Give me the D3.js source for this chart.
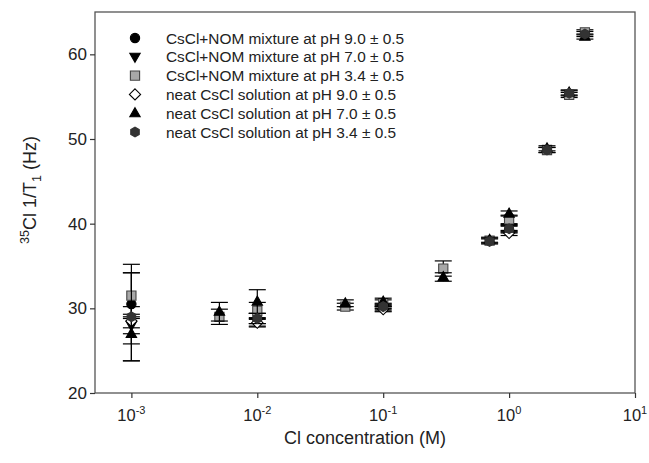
<!DOCTYPE html>
<html><head><meta charset="utf-8">
<script src="https://cdn.jsdelivr.net/npm/d3@7"></script>
<style>body{margin:0;background:#fff}svg{display:block}text{font-family:"Liberation Sans",Arial,sans-serif;fill:#222}</style>
</head><body><svg id="c" width="649" height="463"></svg>
<script>
const seriesNames = [
  "CsCl+NOM mixture at pH 9.0 \u00b1 0.5",
  "CsCl+NOM mixture at pH 7.0 \u00b1 0.5",
  "CsCl+NOM mixture at pH 3.4 \u00b1 0.5",
  "neat CsCl solution at pH 9.0 \u00b1 0.5",
  "neat CsCl solution at pH 7.0 \u00b1 0.5",
  "neat CsCl solution at pH 3.4 \u00b1 0.5"
];
// concentrations (M), 1/T1 (Hz), error (Hz)
const mix90X = [0.001, 0.01, 0.1, 1];
const mix90Y = [30.5, 28.8, 30.3, 39.3];
const mix90E = [4.7, 0.6, 0.3, 0.4];
const mix70X = [0.001, 0.01, 0.1, 1];
const mix70Y = [28.0, 28.4, 30.0, 39.5];
const mix70E = [1.0, 0.5, 0.3, 0.4];
const mix34X = [0.001, 0.005, 0.01, 0.05, 0.1, 0.3, 0.7, 1, 2, 3, 4];
const mix34Y = [31.5, 29.0, 29.7, 30.2, 30.6, 34.7, 38.0, 40.5, 48.7, 55.2, 62.6];
const mix34E = [2.7, 0.9, 1.0, 0.4, 0.4, 0.9, 0.3, 0.5, 0.3, 0.3, 0.3];
const neat90X = [0.001, 0.01, 0.1, 1];
const neat90Y = [28.5, 28.3, 29.9, 38.9];
const neat90E = [0.8, 0.5, 0.3, 0.3];
const neat70X = [0.001, 0.005, 0.01, 0.05, 0.1, 0.3, 0.7, 1, 2, 3, 4];
const neat70Y = [27.0, 29.6, 30.8, 30.6, 30.8, 33.7, 38.1, 41.2, 48.9, 55.5, 62.1];
const neat70E = [3.2, 1.1, 1.4, 0.4, 0.4, 0.5, 0.3, 0.3, 0.3, 0.3, 0.3];
const neat34X = [0.001, 0.01, 0.1, 0.7, 1, 2, 3, 4];
const neat34Y = [29.0, 28.8, 30.2, 37.9, 39.4, 48.7, 55.4, 62.4];
const neat34E = [5.2, 0.6, 0.3, 0.3, 0.4, 0.3, 0.3, 0.3];
const xTicks = [0.001, 0.01, 0.1, 1, 10];
const xTickExp = ["-3", "-2", "-1", "0", "1"];
const yTicks = [20, 30, 40, 50, 60];

const seriesData = [
  [mix90X, mix90Y, mix90E], [mix70X, mix70Y, mix70E], [mix34X, mix34Y, mix34E],
  [neat90X, neat90Y, neat90E], [neat70X, neat70Y, neat70E], [neat34X, neat34Y, neat34E]
];
const styles = [
  {shape: "circle", fill: "#000", stroke: "#000"},
  {shape: "itri", fill: "#000", stroke: "#000"},
  {shape: "square", fill: "#a8a8a8", stroke: "#444"},
  {shape: "diamond", fill: "#fff", stroke: "#000"},
  {shape: "tri", fill: "#000", stroke: "#000"},
  {shape: "hex", fill: "#333", stroke: "#333"}
];

const svg = d3.select("#c");
const L = 95, R = 635, T = 12, B = 393;
const x = d3.scaleLog().domain([0.000514, 10]).range([L, R]);
const y = d3.scaleLinear().domain([20, 65]).range([B, T]);

function shapePath(s) {
  const r = 4.6;
  if (s === "circle") return d3.symbol(d3.symbolCircle, 68)();
  if (s === "square") return `M${-r},${-r}H${r}V${r}H${-r}Z`;
  if (s === "diamond") { const d = 5.6; return `M0,${-d}L${d},0L0,${d}L${-d},0Z`; }
  if (s === "tri") return "M0,-5.5L5.2,3.6L-5.2,3.6Z";
  if (s === "itri") return "M0,5.5L5.2,-3.6L-5.2,-3.6Z";
  if (s === "hex") {
    const pts = d3.range(6).map(i => { const a = Math.PI / 6 + i * Math.PI / 3; return [4.9 * Math.cos(a), 4.9 * Math.sin(a)]; });
    return "M" + pts.map(p => p.join(",")).join("L") + "Z";
  }
}

// frame
svg.append("rect").attr("x", L).attr("y", T).attr("width", R - L).attr("height", B - T)
  .attr("fill", "none").attr("stroke", "#555").attr("stroke-width", 1.3);

// axes
const xAxis = d3.axisBottom(x).tickValues(xTicks).tickSize(5).tickFormat("");
const gx = svg.append("g").attr("transform", `translate(0,${B})`).call(xAxis);
gx.select(".domain").remove();
gx.selectAll("line").attr("stroke", "#333").attr("stroke-width", 1.2);
const yAxis = d3.axisLeft(y).tickValues(yTicks).tickSize(5).tickFormat("");
const gy = svg.append("g").attr("transform", `translate(${L},0)`).call(yAxis);
gy.select(".domain").remove();
gy.selectAll("line").attr("stroke", "#333").attr("stroke-width", 1.2);

// tick labels
xTicks.forEach((t, i) => {
  const tx = svg.append("text").attr("x", x(t)).attr("y", 421).attr("text-anchor", "middle").attr("font-size", 16.5);
  tx.append("tspan").text("10");
  tx.append("tspan").attr("dy", -7).attr("font-size", 11).text(xTickExp[i]);
});
yTicks.forEach(t => {
  svg.append("text").attr("x", L - 8).attr("y", y(t) + 6).attr("text-anchor", "end").attr("font-size", 17).text(t);
});

// axis titles
svg.append("text").attr("x", 365).attr("y", 444).attr("text-anchor", "middle").attr("font-size", 18).text("Cl concentration (M)");
const yt = svg.append("text").attr("transform", "translate(36,190) rotate(-90)").attr("text-anchor", "middle").attr("font-size", 18);
yt.append("tspan").attr("dy", -7).attr("font-size", 12.5).text("35");
yt.append("tspan").attr("dy", 7).text("Cl 1/T");
yt.append("tspan").attr("dy", 5).attr("font-size", 12.5).text("1");
yt.append("tspan").attr("dy", -5).text(" (Hz)");

// data
const cap = 8.5;
seriesData.forEach((sd, si) => {
  const [xs, ys, es] = sd;
  const g = svg.append("g");
  const pts = xs.map((xv, i) => ({x: xv, y: ys[i], e: es[i]}));
  pts.forEach(p => {
    const cx = x(p.x), y1 = y(p.y + p.e), y2 = y(p.y - p.e);
    g.append("line").attr("x1", cx).attr("x2", cx).attr("y1", y1).attr("y2", y2).attr("stroke", "#000").attr("stroke-width", 1.2);
    [y1, y2].forEach(yy => g.append("line").attr("x1", cx - cap).attr("x2", cx + cap).attr("y1", yy).attr("y2", yy).attr("stroke", "#000").attr("stroke-width", 1.2));
  });
  g.selectAll("path.m").data(pts).join("path").attr("class", "m")
    .attr("d", shapePath(styles[si].shape))
    .attr("transform", d => `translate(${x(d.x)},${y(d.y)})`)
    .attr("fill", styles[si].fill).attr("stroke", styles[si].stroke).attr("stroke-width", 1.1);
});

// legend
seriesNames.forEach((n, i) => {
  const ly = 38 + i * 18.8;
  svg.append("path").attr("d", shapePath(styles[i].shape)).attr("transform", `translate(135,${ly})`)
    .attr("fill", styles[i].fill).attr("stroke", styles[i].stroke).attr("stroke-width", 1.1);
  svg.append("text").attr("x", 166).attr("y", ly + 5.5).attr("font-size", 15.4).text(n);
});
</script></body></html>
